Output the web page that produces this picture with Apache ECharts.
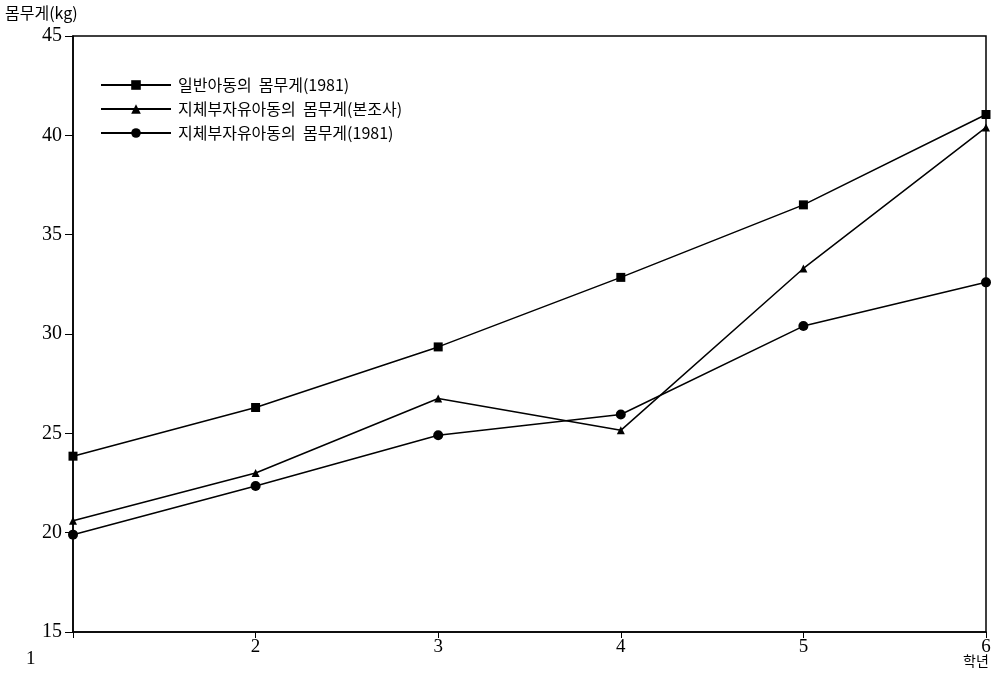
<!DOCTYPE html>
<html><head><meta charset="utf-8">
<script src="https://cdn.jsdelivr.net/npm/echarts@6/dist/echarts.min.js"></script>
<style>html,body{margin:0;padding:0;background:#fff}#c{width:1005px;height:675px}</style>
</head><body><div id="c"></div>
<script>
const grades = [1, 2, 3, 4, 5, 6];
const yTicks = [15, 20, 25, 30, 35, 40, 45];
const seriesNames = ['일반아동의  몸무게(1981)', '지체부자유아동의  몸무게(본조사)', '지체부자유아동의  몸무게(1981)'];
const normal1981 = [23.85, 26.3, 29.35, 32.85, 36.5, 41.05];
const disabledSurvey = [20.6, 23.0, 26.75, 25.15, 33.3, 40.4];
const disabled1981 = [19.9, 22.35, 24.9, 25.95, 30.4, 32.6];

const symbols = ['rect', 'triangle', 'circle'];
const sizes = [9, 8, 10];
const dataSets = [normal1981, disabledSurvey, disabled1981];

const chart = echarts.init(document.getElementById('c'));
const serif = '"Liberation Serif", "Noto Sans CJK KR", serif';
const kr = '"Noto Sans CJK KR", sans-serif';
chart.setOption({
  animation: false,
  backgroundColor: '#fff',
  grid: { left: 73, right: 19, top: 36, bottom: 43, show: true, borderColor: '#000', borderWidth: 1.5, containLabel: false },
  legend: {
    orient: 'vertical', left: 95, top: 72, itemWidth: 70, itemHeight: 12, itemGap: 8,
    textStyle: { fontFamily: kr, fontSize: 16, color: '#000', padding: [0, 0, 0, 2] },
    data: seriesNames
  },
  xAxis: {
    type: 'value', min: 1, max: 6, interval: 1,
    axisLine: { lineStyle: { color: '#000', width: 1.5 } },
    axisTick: { show: true, length: 6, lineStyle: { color: '#000' } },
    splitLine: { show: false },
    axisLabel: { fontFamily: serif, fontSize: 19, color: '#000', margin: 6,
      formatter: v => v === 1 ? '' : String(v) }
  },
  yAxis: {
    type: 'value', min: 15, max: 45, interval: 5,
    axisLine: { show: true, lineStyle: { color: '#000', width: 1.5 } },
    axisTick: { show: true, length: 8, lineStyle: { color: '#000' } },
    splitLine: { show: false },
    axisLabel: { fontFamily: serif, fontSize: 20, color: '#000', margin: 11 }
  },
  graphic: [
    { type: 'text', left: 5, top: 5, style: { text: '몸무게(kg)', font: '16px "Noto Sans CJK KR"', fill: '#000' } },
    { type: 'text', left: 963, top: 654, style: { text: '학년', font: '14px "Noto Sans CJK KR"', fill: '#000' } },
    { type: 'text', left: 26, top: 650, style: { text: '1', font: '19px "Liberation Serif"', fill: '#000' } }
  ],
  series: seriesNames.map((name, i) => ({
    name, type: 'line',
    data: grades.map((g, j) => [g, dataSets[i][j]]),
    symbol: symbols[i], symbolSize: sizes[i], showSymbol: true,
    lineStyle: { color: '#000', width: 1.5 },
    itemStyle: { color: '#000' }
  }))
});
</script></body></html>
